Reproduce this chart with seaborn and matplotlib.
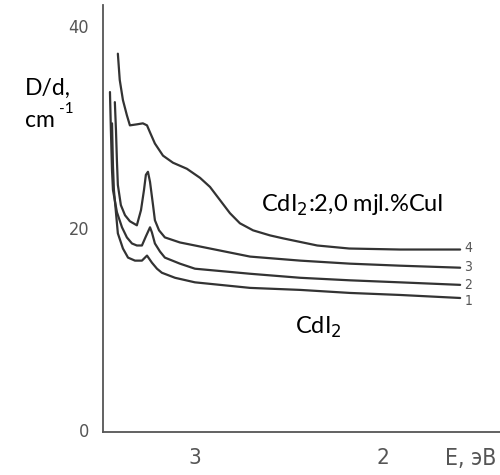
import numpy as np
import pandas as pd
import seaborn as sns
import matplotlib.pyplot as plt

sns.set_theme(style="white")

# спектры поглощения, E (эВ) -> D/d (см-1)
E1 = [3.441, 3.436, 3.431, 3.41, 3.383, 3.356, 3.319, 3.282, 3.255, 3.229, 3.202, 3.176, 3.106, 3.0, 2.707, 2.44, 2.176, 1.91, 1.59]
D1 = [30.4, 26.2, 23.8, 19.5, 18.0, 17.1, 16.8, 16.8, 17.3, 16.6, 16.0, 15.6, 15.1, 14.65, 14.1, 13.9, 13.6, 13.4, 13.1]

E2 = [3.452, 3.447, 3.441, 3.436, 3.415, 3.388, 3.362, 3.335, 3.309, 3.282, 3.261, 3.239, 3.229, 3.213, 3.186, 3.16, 3.08, 3.0, 2.707, 2.44, 2.176, 1.91, 1.59]
D2 = [33.5, 29.7, 25.7, 23.8, 21.6, 20.1, 19.1, 18.5, 18.3, 18.3, 19.2, 20.1, 19.6, 18.5, 17.7, 17.1, 16.5, 16.0, 15.5, 15.1, 14.85, 14.65, 14.4]

E3 = [3.426, 3.42, 3.415, 3.41, 3.394, 3.372, 3.346, 3.309, 3.287, 3.271, 3.261, 3.25, 3.239, 3.223, 3.213, 3.191, 3.16, 3.08, 3.0, 2.707, 2.44, 2.176, 1.91, 1.59]
D3 = [32.5, 29.7, 26.7, 24.3, 22.3, 21.3, 20.7, 20.3, 21.8, 23.8, 25.3, 25.6, 24.6, 22.3, 20.8, 19.8, 19.1, 18.6, 18.3, 17.2, 16.8, 16.5, 16.3, 16.1]

E4 = [3.41, 3.40, 3.383, 3.362, 3.346, 3.309, 3.277, 3.255, 3.239, 3.213, 3.17, 3.117, 3.043, 2.973, 2.92, 2.867, 2.814, 2.761, 2.691, 2.601, 2.53, 2.35, 2.18, 1.91, 1.59]
D4 = [37.3, 34.7, 32.7, 31.2, 30.2, 30.3, 30.4, 30.2, 29.5, 28.4, 27.2, 26.5, 25.9, 25.0, 24.1, 22.8, 21.5, 20.5, 19.8, 19.3, 19.0, 18.3, 18.0, 17.9, 17.9]

curve_ids = ["1", "2", "3", "4"]
yticks = [0, 20, 40]
xticks = [3, 2]

frames = []
for cid, e, d in zip(curve_ids, [E1, E2, E3, E4], [D1, D2, D3, D4]):
    frames.append(pd.DataFrame({"E": e, "D": d, "curve": cid}))
df = pd.concat(frames, ignore_index=True)

fig = plt.figure(figsize=(5, 4.75), dpi=100)
ax = fig.add_axes([0.206, 0.09, 0.794, 0.899])

sns.lineplot(data=df, x="E", y="D", units="curve", estimator=None, sort=False,
             color="#333333", linewidth=1.6, ax=ax)

ax.set_xlim(3.489, 1.378)
ax.set_ylim(-0.2, 42.1)
ax.set_xlabel("")
ax.set_ylabel("")

for s in ["top", "right"]:
    ax.spines[s].set_visible(False)
for s in ["left", "bottom"]:
    ax.spines[s].set_color("#555555")
    ax.spines[s].set_linewidth(1.3)

narrow = ["DejaVu Sans"]
ax.set_xticks(xticks)
ax.set_yticks(yticks)
ax.tick_params(axis="both", direction="in", length=3, color="#666666",
               labelcolor="#555555")
ax.tick_params(axis="y", labelsize=13, pad=10)
ax.tick_params(axis="x", labelsize=16, pad=11)
for lab in ax.get_xticklabels() + ax.get_yticklabels():
    lab.set_family(narrow)
    lab.set_stretch("condensed")

# номера кривых, чуть раздвинуты по вертикали
label_dy = [-2.5, 0, 0.5, 1]
for cid, e, d, dy in zip(curve_ids, [E1, E2, E3, E4], [D1, D2, D3, D4], label_dy):
    ax.annotate(cid, (e[-1], d[-1]), xytext=(3, dy), textcoords="offset points",
                fontsize=10, color="#555555", family=narrow,
                stretch="condensed", va="center")

fnt = ["Lato", "DejaVu Sans"]
fig.text(0.05, 0.80, "D/d,", fontsize=16.5, family=fnt, color="black")
fig.text(0.05, 0.733, "cm", fontsize=16.5, family=fnt, color="black")
fig.text(0.117, 0.762, "-1", fontsize=11, family=fnt, color="black")
ax.text(2.65, 21.6, "CdI$_2$:2,0 mjl.%CuI", fontsize=17, family=fnt, color="black")
ax.text(2.468, 9.6, "CdI$_2$", fontsize=17, family=fnt, color="black")
fig.text(0.89, 0.02, "E, эВ", fontsize=16.5, color="#555555",
         family=narrow, stretch="condensed")

plt.savefig("out.png", dpi=100)
